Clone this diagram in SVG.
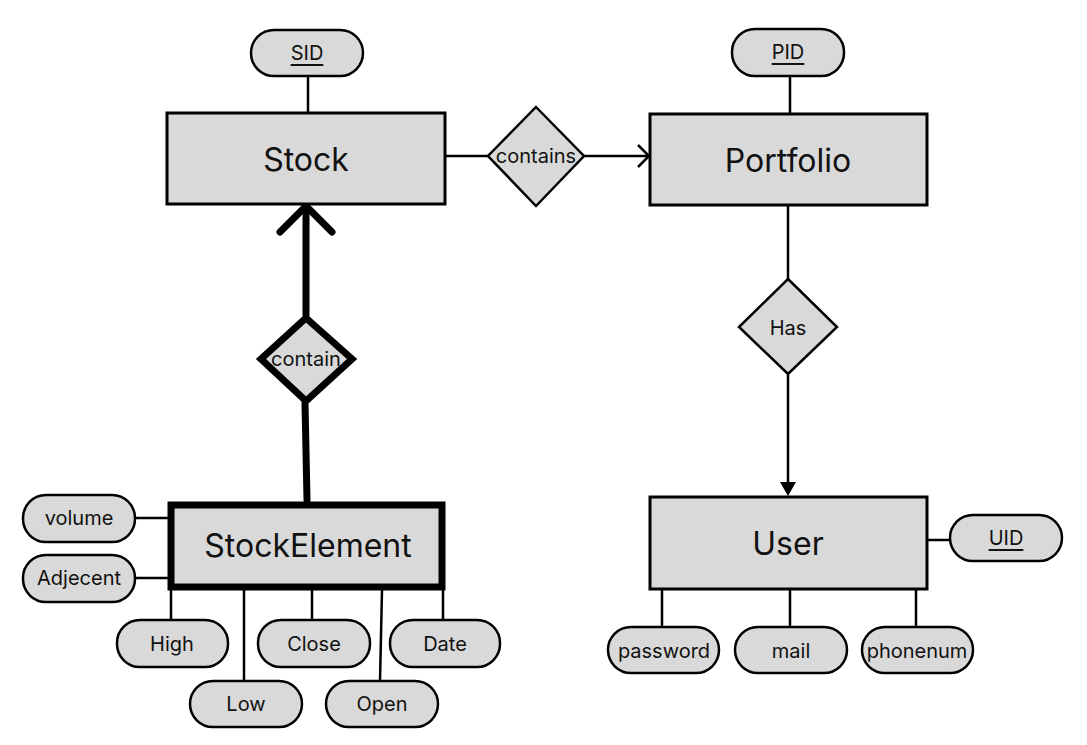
<svg xmlns="http://www.w3.org/2000/svg" width="1087" height="745" viewBox="0 0 1087 745">
<style>
.ent{fill:#d9d9d9;stroke:#000;stroke-width:3}
.weak{fill:#d9d9d9;stroke:#000;stroke-width:7}
.attr{fill:#d9d9d9;stroke:#000;stroke-width:2.5}
.ln{stroke:#000;stroke-width:2.5;fill:none}
.bold{stroke:#000;stroke-width:7;fill:none;stroke-linecap:round}
text{font-family:Inter,"Noto Sans","Liberation Sans",sans-serif;fill:#111;text-anchor:middle;dominant-baseline:central}
.big{font-size:32px}
.sm{font-size:20px}
</style>
<rect width="1087" height="745" fill="#fff"/>
<g id="connectors">
<line class="ln" x1="308" y1="76" x2="308" y2="113"/>
<line class="ln" x1="790" y1="76" x2="790" y2="114"/>
<line class="ln" x1="445" y1="156" x2="488" y2="156"/>
<line class="ln" x1="584" y1="156" x2="649" y2="156"/>
<polyline class="ln" points="638,145 649,156 638,167"/>
<line class="ln" x1="788" y1="205" x2="788" y2="279"/>
<line class="ln" x1="788" y1="374" x2="788" y2="484"/>
<polygon points="780,482 796,482 788,496" fill="#000"/>
<line class="bold" x1="306" y1="315" x2="306" y2="208"/>
<polyline class="bold" points="280,232 306,206 332,232"/>
<line class="bold" x1="305" y1="403" x2="307" y2="500"/>
<line class="ln" x1="135" y1="518" x2="168" y2="518"/>
<line class="ln" x1="135" y1="578" x2="168" y2="578"/>
<line class="ln" x1="171" y1="590" x2="171" y2="620"/>
<line class="ln" x1="244" y1="590" x2="244" y2="681"/>
<line class="ln" x1="312" y1="590" x2="312" y2="620"/>
<line class="ln" x1="382" y1="590" x2="380" y2="681"/>
<line class="ln" x1="443" y1="590" x2="443" y2="620"/>
<line class="ln" x1="927" y1="540" x2="950" y2="540"/>
<line class="ln" x1="662" y1="589" x2="662" y2="627"/>
<line class="ln" x1="790" y1="589" x2="790" y2="627"/>
<line class="ln" x1="916" y1="589" x2="916" y2="627"/>
</g>
<g id="stock">
<rect class="ent" x="167" y="113" width="278" height="91"/>
<text class="big" x="306" y="159">Stock</text>
</g>
<g id="sid">
<rect class="attr" x="251" y="30" width="112" height="46" rx="23"/>
<text class="sm" x="307" y="53" text-decoration="underline">SID</text>
</g>
<g id="portfolio">
<rect class="ent" x="650" y="114" width="277" height="91"/>
<text class="big" x="788" y="160">Portfolio</text>
</g>
<g id="pid">
<rect class="attr" x="732" y="29" width="112" height="47" rx="23"/>
<text class="sm" x="788" y="52" text-decoration="underline">PID</text>
</g>
<g id="contains">
<polygon class="attr" points="536,107 584,156 536,206 488,156"/>
<text class="sm" x="536" y="156">contains</text>
</g>
<g id="has">
<polygon class="attr" points="788,279 837,327 788,374 739,327"/>
<text class="sm" x="788" y="328">Has</text>
</g>
<g id="contain">
<polygon class="weak" points="306,318 352,359 306,401 261,359"/>
<text class="sm" x="306" y="359">contain</text>
</g>
<g id="stockelement">
<rect class="weak" x="171" y="505" width="271" height="82"/>
<text class="big" x="308" y="545">StockElement</text>
</g>
<g id="volume"><rect class="attr" x="23" y="495" width="112" height="47" rx="23"/><text class="sm" x="79" y="518">volume</text></g>
<g id="adjecent"><rect class="attr" x="23" y="555" width="112" height="47" rx="23"/><text class="sm" x="79" y="578">Adjecent</text></g>
<g id="high"><rect class="attr" x="117" y="620" width="111" height="47" rx="23"/><text class="sm" x="172" y="644">High</text></g>
<g id="close"><rect class="attr" x="258" y="620" width="112" height="47" rx="23"/><text class="sm" x="314" y="644">Close</text></g>
<g id="date"><rect class="attr" x="390" y="620" width="110" height="47" rx="23"/><text class="sm" x="445" y="644">Date</text></g>
<g id="low"><rect class="attr" x="190" y="681" width="112" height="46" rx="23"/><text class="sm" x="246" y="704">Low</text></g>
<g id="open"><rect class="attr" x="326" y="681" width="112" height="46" rx="23"/><text class="sm" x="382" y="704">Open</text></g>
<g id="user">
<rect class="ent" x="650" y="497" width="277" height="92"/>
<text class="big" x="788" y="543">User</text>
</g>
<g id="uid"><rect class="attr" x="950" y="515" width="112" height="46" rx="23"/><text class="sm" x="1006" y="538" text-decoration="underline">UID</text></g>
<g id="password"><rect class="attr" x="608" y="627" width="111" height="46" rx="23"/><text class="sm" x="664" y="651">password</text></g>
<g id="mail"><rect class="attr" x="735" y="627" width="112" height="46" rx="23"/><text class="sm" x="791" y="651">mail</text></g>
<g id="phonenum"><rect class="attr" x="862" y="627" width="111" height="46" rx="23"/><text class="sm" x="917" y="651">phonenum</text></g>
</svg>
